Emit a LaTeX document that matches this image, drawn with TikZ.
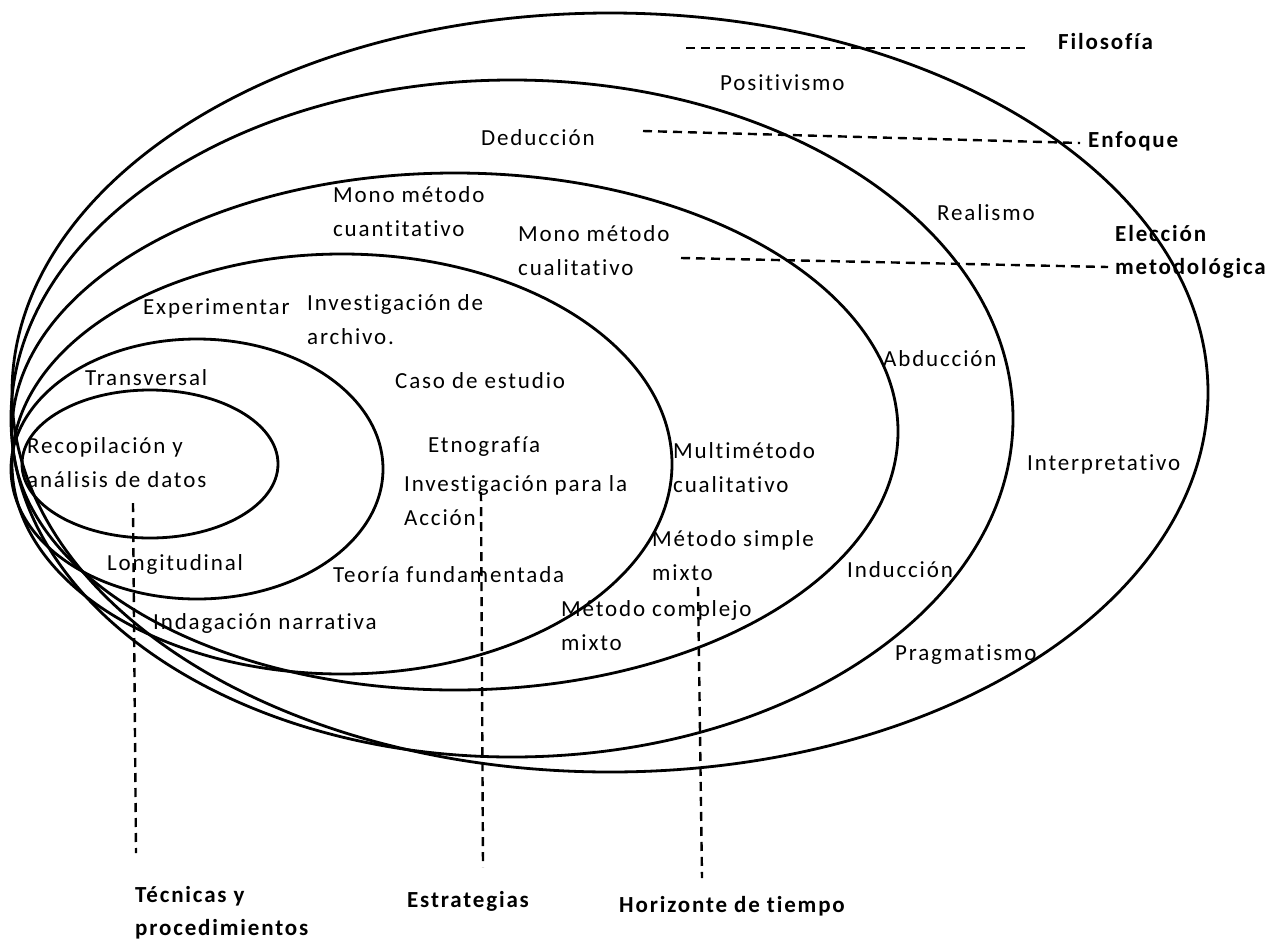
\documentclass[tikz,border=0pt]{standalone}
\usepackage{fontspec}
\setmainfont{Carlito}[LetterSpace=8, Ligatures=NoCommon]
\usepackage{tikz}
\usetikzlibrary{positioning}

\begin{document}
\begin{tikzpicture}[x=1pt, y=-1pt,
    ring/.style={line width=2.8pt},
    guide/.style={line width=2.4pt, dash pattern=on 9pt off 6pt},
    lbl/.style={inner sep=0pt, anchor=base west, align=left,
        font=\fontsize{23}{34}\selectfont},
    head/.style={lbl, font=\fontsize{23}{33}\selectfont\bfseries}]
    \useasboundingbox (0,0) rectangle (1282,940);

    % capas, de fuera hacia dentro
    \draw[ring] (610,392.5) ellipse [x radius=598pt, y radius=379.5pt];
    \draw[ring] (512,418.5) ellipse [x radius=501pt, y radius=338.5pt];
    \draw[ring] (455,431.5) ellipse [x radius=443pt, y radius=258.5pt];
    \draw[ring] (342,464) ellipse [x radius=330pt, y radius=210pt];
    \draw[ring] (197,469) ellipse [x radius=186pt, y radius=130pt];
    \draw[ring] (150,464) ellipse [x radius=128pt, y radius=74pt];

    % contenido de cada capa (base de la ultima linea)
    \node[lbl] (positivismo) at (720,90) {Positivismo};
    \node[lbl] (realismo) at (937,220) {Realismo};
    \node[lbl] (interpretativo) at (1027,470) {Interpretativo};
    \node[lbl] (pragmatismo) at (895,660) {Pragmatismo};
    \node[lbl] (deduccion) at (481,145) {Deducción};
    \node[lbl] (abduccion) at (883,366) {Abducción};
    \node[lbl] (induccion) at (847,577) {Inducción};
    \node[lbl] (monocuanti) at (333,236) {Mono método\\cuantitativo};
    \node[lbl] (monocuali) at (518,275) {Mono método\\cualitativo};
    \node[lbl] (multicuali) at (673,492) {Multimétodo\\cualitativo};
    \node[lbl] (simplemixto) at (652,580) {Método simple\\mixto};
    \node[lbl] (complejomixto) at (561,650) {Método complejo\\mixto};
    \node[lbl] (experimentar) at (143,314) {Experimentar};
    \node[lbl] (archivo) at (307,344) {Investigación de\\archivo.};
    \node[lbl] (caso) at (395,388) {Caso de estudio};
    \node[lbl] (etnografia) at (428,452) {Etnografía};
    \node[lbl] (accion) at (404,525) {Investigación para la\\Acción};
    \node[lbl] (teoria) at (333,582) {Teoría fundamentada};
    \node[lbl] (narrativa) at (153,629) {Indagación narrativa};
    \node[lbl] (transversal) at (85,385) {Transversal};
    \node[lbl] (longitudinal) at (107,570) {Longitudinal};
    \node[lbl] (datos) at (27,487) {Recopilación y\\análisis de datos};

    % nombres de las capas
    \node[head] (filosofia) at (1058,49) {Filosofía};
    \node[head] (enfoque) at (1088,147) {Enfoque};
    \node[head] (eleccion) at (1115,274) {Elección\\metodológica};
    \node[head] (tecnicas) at (135,935) {Técnicas y\\procedimientos};
    \node[head] (estrategias) at (407,907) {Estrategias};
    \node[head] (horizonte) at (619,912) {Horizonte de tiempo};

    \coordinate (fil-a) at (686,48);   \coordinate (fil-b) at (1030,48);
    \coordinate (enf-a) at (643,131);  \coordinate (enf-b) at (1080,143);
    \coordinate (ele-a) at (681,258);  \coordinate (ele-b) at (1108,267);
    \coordinate (tec-a) at (133,503);  \coordinate (tec-b) at (136,853);
    \coordinate (est-a) at (481,492);  \coordinate (est-b) at (483,867);
    \coordinate (hor-a) at (698,587);  \coordinate (hor-b) at (702,878);
    \draw[guide] (fil-a) -- (fil-b);
    \draw[guide] (enf-a) -- (enf-b);
    \draw[guide] (ele-a) -- (ele-b);
    \draw[guide] (tec-a) -- (tec-b);
    \draw[guide] (est-a) -- (est-b);
    \draw[guide] (hor-a) -- (hor-b);
\end{tikzpicture}
\end{document}
